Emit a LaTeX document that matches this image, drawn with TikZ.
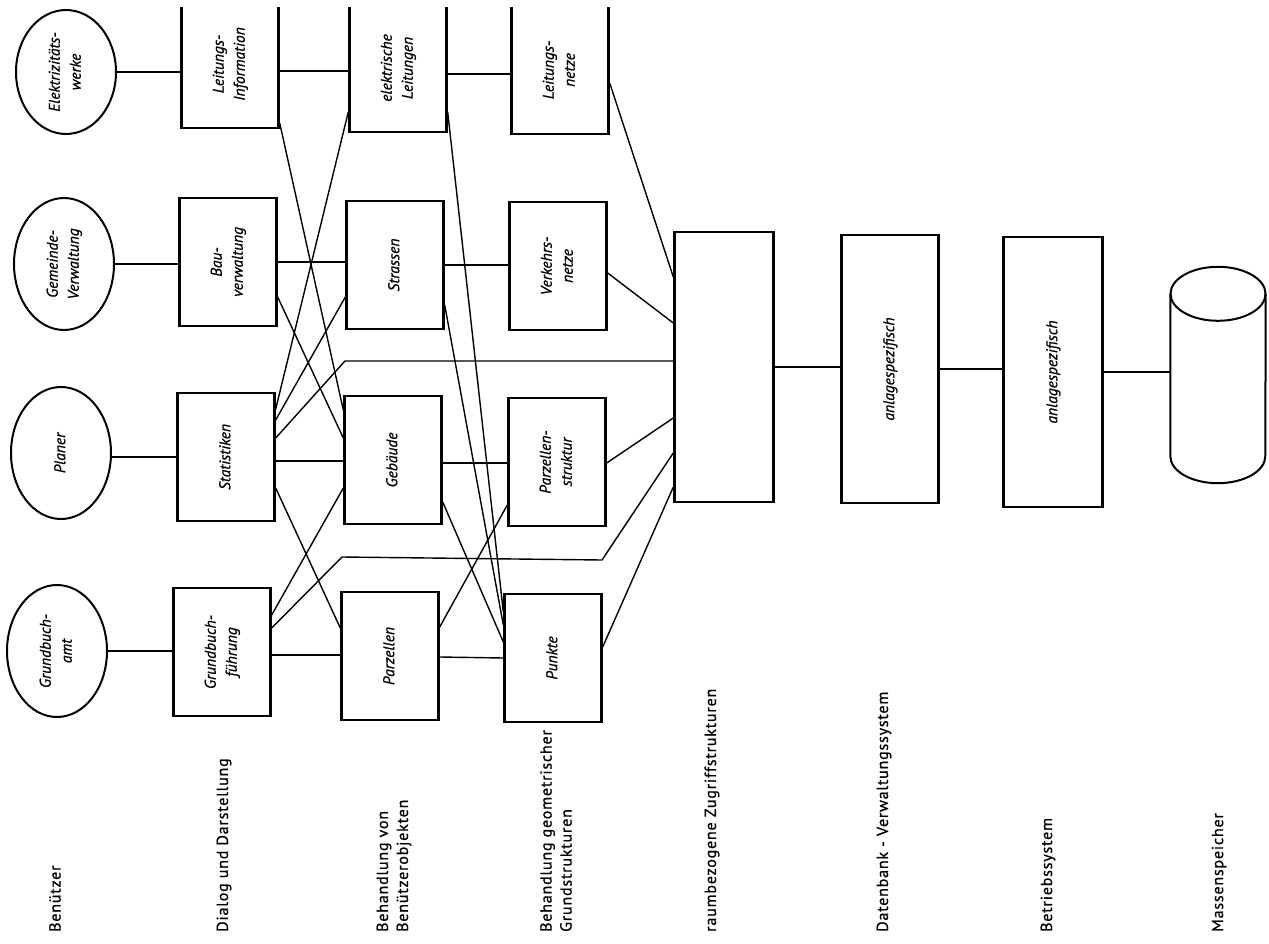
\documentclass[tikz,border=0pt]{standalone}
\usepackage{fontspec}
\setmainfont{PT Sans}[FakeBold=0.8]
\usepackage{graphicx}
\usetikzlibrary{shapes.geometric}
\newcommand{\dreh}[1]{\rotatebox{90}{\begin{tabular}{@{}c@{}}#1\end{tabular}}}
\tikzset{
  benutzer/.style={ellipse,draw,line width=2pt,minimum width=100pt,minimum height=132pt,inner sep=0pt,font=\fontsize{15.5}{21}\selectfont\itshape},
  kasten/.style={rectangle,draw,line width=2.4pt,minimum width=97pt,minimum height=128pt,inner sep=0pt,font=\fontsize{15.5}{21}\selectfont\itshape},
  saeule/.style={kasten,minimum width=99pt,minimum height=270pt},
  ebene/.style={rotate=90,anchor=west,align=left,inner sep=0pt,font=\fontsize{16}{20}\selectfont\addfontfeatures{LetterSpace=5}},
  linie/.style={line width=1.4pt}
}
\begin{document}
\begin{tikzpicture}[x=1pt,y=-1pt]
\useasboundingbox (0,0) rectangle (1269,944);
\clip (0,8) rectangle (1269,944);

\node[benutzer,minimum height=124pt] (elek) at (66,72) {\dreh{Elektrizitäts-\\werke}};
\node[benutzer] (gem) at (64,264) {\dreh{Gemeinde-\\Verwaltung}};
\node[benutzer] (plan) at (61,453) {\dreh{Planer}};
\node[benutzer] (grund) at (57,651) {\dreh{Grundbuch-\\amt}};

\node[kasten] (leitinfo) at (230,64) {\dreh{Leitungs-\\Information}};
\node[kasten] (bau) at (228,262) {\dreh{Bau-\\verwaltung}};
\node[kasten] (stat) at (226,457) {\dreh{Statistiken}};
\node[kasten] (gbf) at (222,652) {\dreh{Grundbuch-\\führung}};

\node[kasten] (elleit) at (398,68) {\dreh{elektrische\\Leitungen}};
\node[kasten] (strassen) at (395,265) {\dreh{Strassen}};
\node[kasten] (gebaeude) at (393,460) {\dreh{Gebäude}};
\node[kasten] (parzellen) at (390,656) {\dreh{Parzellen}};

\node[kasten] (leitnetze) at (560,70) {\dreh{Leitungs-\\netze}};
\node[kasten] (verkehr) at (558,266) {\dreh{Verkehrs-\\netze}};
\node[kasten] (parzstr) at (557,462) {\dreh{Parzellen-\\struktur}};
\node[kasten] (punkte) at (553,658) {\dreh{Punkte}};

\node[saeule] (raum) at (724,367) {};
\node[saeule,minimum width=97pt,minimum height=268pt] (db) at (890,369) {\dreh{anlagespezifisch}};
\node[saeule] (bs) at (1053,372) {\dreh{anlagespezifisch}};

\node[minimum width=95pt,minimum height=216pt,inner sep=0pt] (ms) at (1218,375) {};
\draw[line width=2pt] ([yshift=-27pt]ms.north) ellipse [x radius=47.5pt,y radius=27pt];
\draw[line width=2pt] ([yshift=-27pt]ms.north west) -- ([yshift=27pt]ms.south west)
  arc[start angle=180,end angle=360,x radius=47.5pt,y radius=27pt] -- ([yshift=-27pt]ms.north east);

\coordinate (knickA) at (345,361);
\coordinate (knickB) at (342,557);
\coordinate (knickC) at (602,560);

\draw[linie] (elek.east) -- (elek.east -| leitinfo.west);
\draw[linie] (gem.east) -- (gem.east -| bau.west);
\draw[linie] ([shift={(0,4)}]plan.east) -- (stat.west);
\draw[linie] (grund.east) -- (grund.east -| gbf.west);

\draw[linie] ([shift={(0,7)}]leitinfo.east) -- ([shift={(0,3)}]elleit.west);
\draw[linie] ([shift={(0,59)}]leitinfo.east) -- ([shift={(0,-50)}]gebaeude.west);
\draw[linie] (bau.east) -- ([shift={(0,-3)}]strassen.west);
\draw[linie] ([shift={(0,35)}]bau.east) -- ([shift={(0,-22)}]gebaeude.west);
\draw[linie] ([shift={(0,-48)}]stat.east) -- ([shift={(0,44)}]elleit.west);
\draw[linie] ([shift={(0,-37)}]stat.east) -- ([shift={(0,32)}]strassen.west);
\draw[linie] ([shift={(0,-19)}]stat.east) -- (knickA) -- (knickA -| raum.west);
\draw[linie] ([shift={(0,4)}]stat.east) -- ([shift={(0,1)}]gebaeude.west);
\draw[linie] ([shift={(0,31)}]stat.east) -- ([shift={(0,-28)}]parzellen.west);
\draw[linie] ([shift={(0,-37)}]gbf.east) -- ([shift={(0,28)}]gebaeude.west);
\draw[linie] ([shift={(0,-24)}]gbf.east) -- (knickB) -- (knickC) -- ([shift={(0,86)}]raum.west);
\draw[linie] ([shift={(0,3)}]gbf.east) -- ([shift={(0,-1)}]parzellen.west);

\draw[linie] ([shift={(0,6)}]elleit.east) -- ([shift={(0,4)}]leitnetze.west);
\draw[linie] ([shift={(0,44)}]elleit.east) -- ([shift={(0,-46)}]punkte.west);
\draw[linie] (strassen.east) -- ([shift={(0,-1)}]verkehr.west);
\draw[linie] ([shift={(0,40)}]strassen.east) -- ([shift={(0,-33)}]punkte.west);
\draw[linie] ([shift={(0,3)}]gebaeude.east) -- ([shift={(0,1)}]parzstr.west);
\draw[linie] ([shift={(0,42)}]gebaeude.east) -- ([shift={(0,-16)}]punkte.west);
\draw[linie] ([shift={(0,-29)}]parzellen.east) -- ([shift={(0,43)}]parzstr.west);
\draw[linie] ([shift={(0,1)}]parzellen.east) -- (punkte.west);

\draw[linie] ([shift={(0,13)}]leitnetze.east) -- ([shift={(0,-90)}]raum.west);
\draw[linie] ([shift={(0,7)}]verkehr.east) -- ([shift={(0,-44)}]raum.west);
\draw[linie] ([shift={(0,1)}]parzstr.east) -- ([shift={(0,51)}]raum.west);
\draw[linie] ([shift={(0,-11)}]punkte.east) -- ([shift={(0,120)}]raum.west);
\draw[linie] (raum.east) -- (raum.east -| db.west);
\draw[linie] (db.east) -- (db.east -| bs.west);
\draw[linie] (bs.east) -- (bs.east -| ms.west);

\node[ebene] (lbenutzer) at (55,932) {Benützer};
\node[ebene] (ldialog) at (224,932) {Dialog und Darstellung};
\node[ebene] (lobjekte) at (394,932) {Behandlung von\\Benützerobjekten};
\node[ebene] (lgeometrie) at (556,932) {Behandlung geometrischer\\Grundstrukturen};
\node[ebene] (lzugriff) at (712,932) {raumbezogene Zugriffstrukturen};
\node[ebene] (ldatenbank) at (884,932) {Datenbank - Verwaltungssystem};
\node[ebene] (lbetrieb) at (1048,932) {Betriebssystem};
\node[ebene] (lspeicher) at (1219,932) {Massenspeicher};
\end{tikzpicture}
\end{document}
